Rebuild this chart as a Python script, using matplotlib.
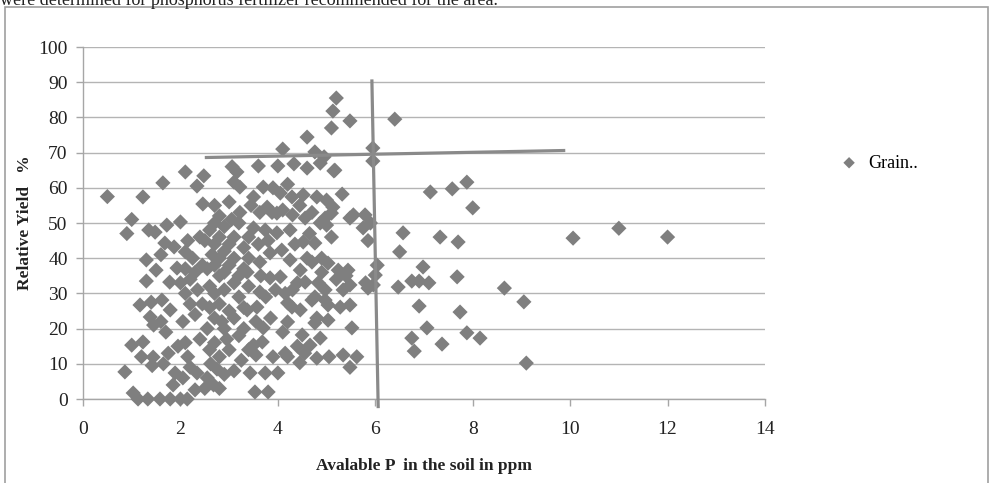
import matplotlib.pyplot as plt
from matplotlib.patches import Rectangle

plt.rcParams['font.family'] = ['Liberation Serif', 'DejaVu Serif']

# Available P (ppm) and relative yield (%)
avail_p = [
    0.5, 0.86, 0.9, 1.0, 1.0, 1.03,
    1.13, 1.17, 1.23, 1.23, 1.3, 1.3, 1.33, 1.38, 1.44, 1.48, 1.4, 1.45, 1.5, 1.42, 1.2, 1.35,
    1.58, 1.6, 1.62, 1.64, 1.68, 1.72, 1.75, 1.78, 1.79, 1.79, 1.87, 1.89, 1.93, 1.6, 1.7, 1.85, 1.95, 1.65,
    2.0, 2.0, 2.1, 2.1, 2.14, 2.3, 2.34, 2.34, 2.48, 2.46, 2.0, 2.05, 2.1, 2.1, 2.1, 2.15, 2.2, 2.2,
    2.25, 2.3, 2.3, 2.35, 2.4, 2.4, 2.45, 2.05, 2.2, 2.45, 2.15,
    2.55, 2.5, 2.55, 2.55, 2.5, 2.6, 2.6, 2.6, 2.6, 2.62, 2.7, 2.7, 2.7, 2.7, 2.7, 2.7, 2.7, 2.68,
    2.8, 2.8, 2.8, 2.8, 2.8, 2.8, 2.8, 2.9, 2.9, 2.9, 2.9, 2.9, 2.95, 2.9, 2.75, 2.65, 2.85,
    3.06, 3.16, 3.1, 3.0, 3.05, 3.0, 3.0, 3.0, 3.0, 3.1, 3.1, 3.1, 3.1, 3.1, 3.2, 3.2, 3.2, 3.2,
    3.22, 3.22, 3.3, 3.3, 3.3, 3.3, 3.37, 3.37, 3.4, 3.4, 3.4, 3.4, 3.43, 3.5, 3.5, 3.5, 3.45, 3.25,
    3.53, 3.57, 3.6, 3.63, 3.63, 3.63, 3.68, 3.7, 3.7, 3.74, 3.74, 3.78, 3.8, 3.84, 3.84, 3.88,
    3.9, 3.98, 3.98, 3.6, 3.65, 3.55, 3.75, 3.85, 3.9, 3.55, 3.95, 3.8,
    4.0, 4.05, 4.05, 4.08, 4.1, 4.1, 4.2, 4.2, 4.2, 4.2, 4.25, 4.25, 4.29, 4.29, 4.3, 4.33, 4.45,
    4.46, 4.46, 4.5, 4.1, 4.15, 4.35, 4.4, 4.4, 4.0, 4.45, 4.15, 4.3,
    4.52, 4.52, 4.56, 4.56, 4.6, 4.6, 4.66, 4.7, 4.7, 4.7, 4.76, 4.76, 4.76, 4.76, 4.8, 4.8, 4.8,
    4.83, 4.87, 4.87, 4.87, 4.95, 4.97, 4.97, 4.97, 4.6, 4.65, 4.9, 4.55, 4.9,
    5.0, 5.0, 5.03, 5.03, 5.03, 5.1, 5.1, 5.13, 5.13, 5.15, 5.17, 5.2, 5.24, 5.28, 5.32, 5.34, 5.34,
    5.44, 5.48, 5.48, 5.48, 5.48, 5.52, 5.48, 5.1, 5.2, 5.05, 5.4,
    5.55, 5.62, 5.75, 5.79, 5.85, 5.85, 5.95, 5.95, 5.96, 6.0, 6.04, 5.9, 5.8,
    6.4, 6.47, 6.5, 6.57, 6.75, 6.8, 6.75, 6.9, 6.9, 6.98, 7.06, 7.1, 7.13, 7.33, 7.37, 7.58, 7.68,
    7.7, 7.74, 7.88, 7.88, 8.0, 8.15, 8.65, 9.05, 9.1, 10.06, 11.0, 12.0,
]
rel_yield = [
    57.5, 7.7, 47, 51, 15.3, 1.7,
    0, 26.7, 16.2, 57.4, 39.5, 33.5, 0, 23.3, 11.9, 47.4, 27.5, 21, 36.6, 9.5, 12, 48,
    0, 41, 28.1, 61.4, 44.3, 49.4, 13, 33.2, 25.3, 0, 43.2, 7.4, 37.2, 22, 19, 4, 15, 10,
    0, 50.3, 64.5, 41.8, 0, 2.6, 7.4, 60.5, 63.4, 55.4, 33, 22, 37, 30, 16, 12, 27, 34,
    40, 24, 36, 31, 46, 17, 38, 6, 9, 27, 45,
    6, 45, 37, 20, 3, 48, 32, 26, 14, 10, 55, 50, 44, 38, 30, 23, 16, 4,
    52, 46, 40, 35, 27, 12, 3, 49, 42, 36, 31, 20, 17, 7, 8.5, 41, 22,
    66, 64.5, 61.6, 56, 51, 44, 38, 25, 14, 46, 40, 33, 23, 8, 50, 35, 29, 18,
    53, 60.2, 43, 37, 26, 20, 36, 25.3, 46, 40, 32, 14, 7.4, 57.4, 48.6, 15.3, 55, 11,
    2, 26.1, 66.2, 53, 38.9, 30.4, 16.2, 20.2, 60.2, 48, 7.4, 54.5, 2, 41.5, 34.4, 53,
    60, 52.8, 47.2, 44, 35, 22, 29, 23, 12, 12.5, 31, 45,
    7.4, 58.5, 34.7, 42.3, 53.7, 71, 61, 27.3, 21.9, 12, 48, 39.5, 57.4, 26.1, 52.3, 66.8, 10.3,
    36.6, 25.3, 18.2, 19, 30, 44, 33, 15, 66.2, 55, 13, 31,
    58, 44.6, 51.4, 33.2, 74.4, 65.6, 15.3, 53, 38.9, 28.1, 70.2, 44.3, 29, 21.6, 57.4, 23, 11.6,
    33, 67, 50, 17.3, 68.8, 51.4, 31, 28.1, 40, 47, 40, 13, 36,
    56.5, 49.4, 38.6, 26.7, 22.4, 52.8, 77, 81.8, 54.5, 64.8, 65, 85.5, 36.6, 26.1, 58.2, 31, 12.5,
    36.6, 79, 51.4, 32.4, 26.7, 20.2, 9, 46, 34, 12, 35,
    52.3, 12, 48.6, 52.3, 45, 31.5, 71.3, 67.6, 32.4, 35.2, 38, 50, 33,
    79.5, 31.8, 41.8, 47.2, 17.3, 13.6, 33.5, 33.5, 26.4, 37.5, 20.2, 33, 58.8, 46, 15.6, 59.7, 34.7,
    44.6, 24.7, 61.6, 18.8, 54.3, 17.3, 31.5, 27.6, 10.2, 45.7, 48.5, 46,
]

# hand-drawn critical level lines
h_line_x = [2.5, 9.9]
h_line_y = [68.6, 70.6]
v_line_x = [5.93, 6.06]
v_line_y = [90.8, -2.6]

x_ticks = [0, 2, 4, 6, 8, 10, 12, 14]
y_ticks = list(range(0, 101, 10))

fig = plt.figure(figsize=(9.91, 4.83), dpi=100)
ax = fig.add_axes([83/991, 1 - 399/483, (765 - 83)/991, (399 - 47)/483])

grey = '#7f7f7f'
ax.scatter(avail_p, rel_yield, marker='D', s=60, color=grey, edgecolors='none',
           label='Grain..', zorder=3, clip_on=False)

ax.plot(h_line_x, h_line_y, color='#8a8a8a', lw=2.3, zorder=4, solid_capstyle='butt')
ax.plot(v_line_x, v_line_y, color='#8a8a8a', lw=2.3, zorder=4, clip_on=False,
        solid_capstyle='butt')

ax.set_xlim(0, 14)
ax.set_ylim(0, 100)
ax.set_xticks(x_ticks)
ax.set_yticks(y_ticks)
ax.yaxis.grid(True, color='#b4b4b4', lw=1.0)
ax.set_axisbelow(True)

for side in ['top', 'right']:
    ax.spines[side].set_visible(False)
for side in ['left', 'bottom']:
    ax.spines[side].set_color('#a6a6a6')
    ax.spines[side].set_linewidth(1.0)
ax.tick_params(axis='both', colors='#a6a6a6', labelcolor='#222222', labelsize=14,
               length=5, width=1.0, direction='out')
ax.tick_params(axis='x', pad=11)
ax.tick_params(axis='y', pad=6)

ax.set_xlabel('Avalable P  in the soil in ppm', fontsize=12.5, fontweight='bold',
              color='#222222', labelpad=14)
ax.set_ylabel('Relative Yield   %', fontsize=12.5, fontweight='bold',
              color='#222222', labelpad=4)

ax.legend(loc='center left', bbox_to_anchor=(822/991, 1 - 163/483),
          bbox_transform=fig.transFigure, frameon=False, fontsize=13,
          handletextpad=0.05, borderpad=0, markerscale=0.75)

# outer chart frame and the cut-off sentence above it
fig.patches.append(Rectangle((5/991, -0.05), (988 - 5)/991, 1.05 - 7/483,
                             transform=fig.transFigure, fill=False,
                             edgecolor='#a0a0a0', lw=1.2))
fig.text(0.0, 1.0, 'were determined for phosphorus fertilizer recommended for the area.',
         fontsize=13, va='center', ha='left', color='#222222')

fig.savefig('out.png', dpi=100)
